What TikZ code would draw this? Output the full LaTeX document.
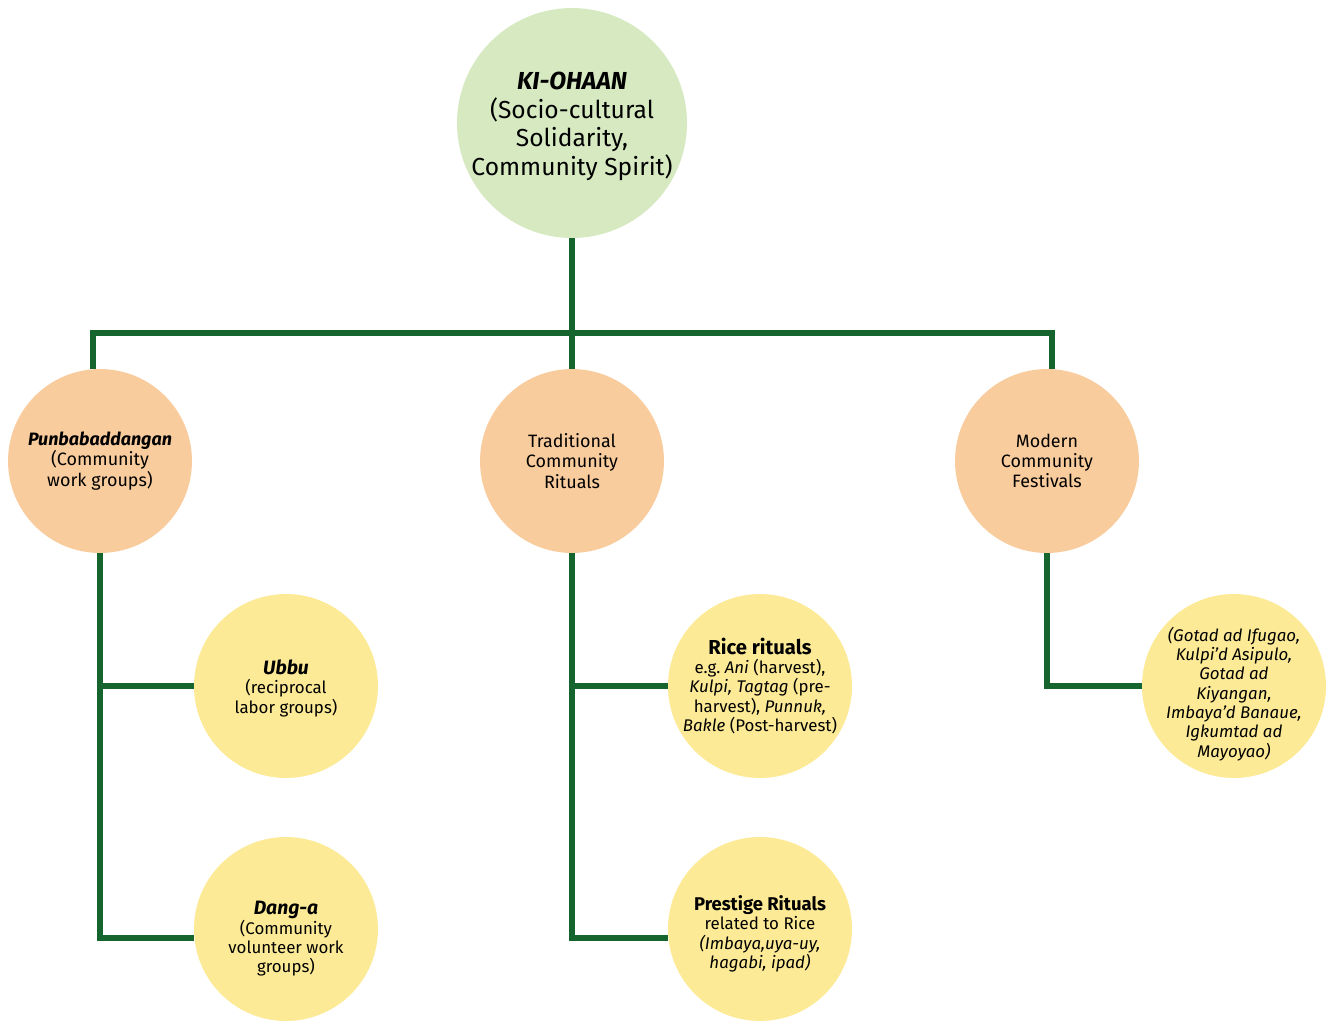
\documentclass[tikz,border=0pt]{standalone}
\usepackage{fontspec}
\setmainfont{Fira Sans}
\usetikzlibrary{calc}
\definecolor{linkgreen}{RGB}{22,101,46}
\definecolor{rootgreen}{RGB}{214,233,193}
\definecolor{peach}{RGB}{249,204,157}
\definecolor{butter}{RGB}{252,234,150}
\newcommand{\lift}[1]{\rule{0pt}{#1}}
\begin{document}
\begin{tikzpicture}[x=0.02cm, y=-0.02cm,
  root/.style={circle, fill=rootgreen, minimum size=4.6cm, inner sep=-10pt,
    align=center, font=\fontsize{14}{16.3}\selectfont},
  group/.style={circle, fill=peach, minimum size=3.68cm, inner sep=0pt,
    align=center, font=\fontsize{10.2}{11.6}\selectfont},
  leaf/.style={circle, fill=butter, minimum size=3.68cm, inner sep=0pt,
    align=center, font=\fontsize{9.6}{11}\selectfont},
  link/.style={draw=linkgreen, line width=3.4pt}]
\useasboundingbox (0,0) rectangle (1330,1021);
% ---------------- nodes ----------------
\node[root] (kio) at (572,123)
  {\lift{14pt}\textbf{\textit{KI-OHAAN}}\\(Socio-cultural\\Solidarity,\\Community Spirit)};
\node[group] (punb) at (100,461)
  {\textbf{\textit{Punbabaddangan}}\\(Community\\work groups)};
\node[group] (trad) at (572,461)
  {Traditional\\Community\\Rituals};
\node[group] (modern) at (1047,461)
  {Modern\\Community\\Festivals};
\node[leaf] (ubbu) at (286,686)
  {\lift{11pt}{\fontsize{11}{12}\selectfont\textbf{\textit{Ubbu}}}\\(reciprocal\\labor groups)};
\node[leaf] (danga) at (286,929)
  {\lift{19pt}{\fontsize{11}{12}\selectfont\textbf{\textit{Dang-a}}}\\(Community\\volunteer work\\groups)};
\node[leaf] (rice) at (760,686)
  {{\fontsize{11.5}{12}\selectfont\textbf{Rice rituals}}\\e.g.~\textit{Ani} (harvest),\\
   \textit{Kulpi, Tagtag} (pre-\\harvest), \textit{Punnuk,}\\\textit{Bakle} (Post-harvest)};
\node[leaf] (prestige) at (760,929)
  {\lift{14pt}{\fontsize{10.5}{12}\selectfont\textbf{Prestige Rituals}}\\related to Rice\\
   \textit{(Imbaya,uya-uy,}\\\textit{hagabi, ipad)}};
\node[leaf, inner sep=-12pt] (fest) at (1234,686)
  {\lift{17pt}\textit{(Gotad ad Ifugao,}\\\textit{Kulpi'd Asipulo,}\\\textit{Gotad ad}\\\textit{Kiyangan,}\\
   \textit{Imbaya'd Banaue,}\\\textit{Igkumtad ad}\\\textit{Mayoyao)}};
% ---------------- connectors ----------------
\coordinate (barL) at (93,333);
\coordinate (barR) at (1052,333);
\draw[link] (kio.south) -- (trad.north);
\draw[link] (punb.north -| barL) -- (barL) -- (barR) -- (modern.north -| barR);
% left branch
\draw[link] (punb.south) |- ($(danga.west)+(0,9)$);
\draw[link] (punb.south |- ubbu.west) -- (ubbu.west);
% middle branch
\draw[link] (trad.south) |- ($(prestige.west)+(0,9)$);
\draw[link] (trad.south |- rice.west) -- (rice.west);
% right branch
\draw[link] (modern.south) |- (fest.west);
\end{tikzpicture}
\end{document}
